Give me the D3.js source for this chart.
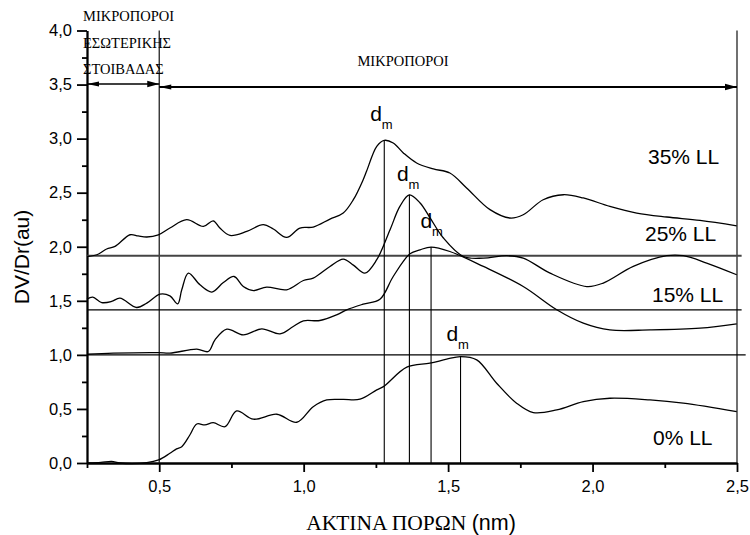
<!DOCTYPE html>
<html>
<head>
<meta charset="utf-8">
<script src="https://cdn.jsdelivr.net/npm/d3@7"></script>
<style>
  body { margin: 0; background: #fff; }
  svg { display: block; }
  .axis path, .axis line { stroke: #000; stroke-width: 1.8; }
  .axis text { font-family: "Liberation Sans", Arial, sans-serif; font-size: 16.5px; fill: #000; }
  .greek { font-family: "Liberation Serif", "Times New Roman", serif; }
  .sans { font-family: "Liberation Sans", Arial, sans-serif; }
</style>
</head>
<body>
<script>
// values: [radius nm, DV/Dr]
const ll35 = [[0.25,1.91],[0.284,1.926],[0.318,1.979],[0.347,2.003],[0.399,2.111],[0.427,2.10],[0.457,2.09],[0.497,2.11],
  [0.537,2.173],[0.595,2.25],[0.653,2.188],[0.687,2.24],[0.710,2.173],[0.745,2.105],[0.803,2.142],[0.860,2.204],[0.895,2.164],
  [0.941,2.086],[0.987,2.173],[1.033,2.182],[1.091,2.256],[1.137,2.312],[1.172,2.435],[1.206,2.62],[1.218,2.70],[1.253,2.929],
  [1.279,2.984],[1.310,2.96],[1.345,2.868],[1.391,2.775],[1.449,2.72],[1.506,2.682],[1.564,2.544],[1.645,2.343],[1.714,2.266],
  [1.760,2.296],[1.829,2.435],[1.899,2.481],[1.968,2.451],[2.060,2.373],[2.153,2.312],[2.257,2.275],[2.372,2.244],[2.499,2.194]];

const ll25 = [[0.25,1.516],[0.270,1.534],[0.301,1.484],[0.335,1.494],[0.364,1.525],[0.422,1.438],[0.457,1.479],[0.503,1.562],
  [0.537,1.546],[0.564,1.472],[0.578,1.602],[0.601,1.756],[0.641,1.648],[0.682,1.581],[0.722,1.669],[0.759,1.725],[0.791,1.632],
  [0.826,1.595],[0.872,1.627],[0.941,1.602],[0.999,1.688],[1.033,1.71],[1.091,1.818],[1.137,1.886],[1.172,1.83],[1.212,1.756],
  [1.253,1.88],[1.299,2.157],[1.333,2.373],[1.366,2.48],[1.403,2.405],[1.437,2.27],[1.483,2.083],[1.553,1.91],[1.622,1.895],
  [1.703,1.917],[1.760,1.895],[1.853,1.756],[1.980,1.632],[2.037,1.664],[2.141,1.818],[2.257,1.917],[2.314,1.917],
  [2.395,1.849],[2.499,1.741]];

const ll15 = [[0.25,1.006],[0.341,1.016],[0.497,1.021],[0.537,1.016],[0.630,1.053],[0.670,1.031],[0.693,1.139],[0.734,1.238],
  [0.791,1.185],[0.855,1.241],[0.918,1.194],[0.964,1.262],[0.999,1.315],[1.056,1.318],[1.114,1.37],[1.149,1.417],[1.206,1.469],
  [1.264,1.514],[1.310,1.725],[1.368,1.935],[1.403,1.972],[1.441,1.997],[1.506,1.956],[1.622,1.818],[1.760,1.632],
  [1.876,1.417],[1.968,1.293],[2.060,1.231],[2.199,1.231],[2.372,1.247],[2.499,1.287]];

const ll0 = [[0.254,0.0],[0.298,0.005],[0.335,0.015],[0.364,0.0],[0.457,0.003],[0.498,0.028],[0.537,0.09],[0.560,0.13],
  [0.578,0.151],[0.606,0.259],[0.630,0.361],[0.658,0.352],[0.687,0.373],[0.728,0.336],[0.768,0.481],[0.826,0.405],
  [0.907,0.451],[0.976,0.377],[1.033,0.521],[1.080,0.583],[1.136,0.588],[1.195,0.59],[1.253,0.676],[1.276,0.706],
  [1.357,0.886],[1.437,0.923],[1.495,0.96],[1.543,0.984],[1.599,0.954],[1.668,0.738],[1.737,0.553],[1.795,0.466],
  [1.876,0.491],[1.968,0.568],[2.060,0.599],[2.199,0.583],[2.314,0.553],[2.499,0.475]];

const seriesNames = ["35% LL", "25% LL", "15% LL", "0% LL"];
const baseLevels = [1.917, 1.417, 1.0];
const zoneBounds = [0.25, 0.5, 2.5];
const zoneNames = ["ΜΙΚΡΟΠΟΡΟΙ", "ΕΣΩΤΕΡΙΚΗΣ", "ΣΤΟΙΒΑΔΑΣ"];
const xTicks = [0.5, 1.0, 1.5, 2.0, 2.5];
const xMinor = [0.25, 0.75, 1.25, 1.75, 2.25];
const yTicks = [0, 0.5, 1.0, 1.5, 2.0, 2.5, 3.0, 3.5, 4.0];
const yMinor = [0.25, 0.75, 1.25, 1.75, 2.25, 2.75, 3.25, 3.75];

const width = 750;
const height = 535;
const allSeries = [ll35, ll25, ll15, ll0];

const svg = d3.select("body").append("svg")
    .attr("width", width)
    .attr("height", height);

const x = d3.scaleLinear().domain([0.25, 2.5]).range([87, 737]);
const y = d3.scaleLinear().domain([0, 4]).range([463, 30.5]);
const fmt = d => d3.format(".1f")(d).replace(".", ",");

// axes
svg.append("g").attr("class", "axis")
    .attr("transform", "translate(0,463)")
    .call(d3.axisBottom(x).tickValues(xMinor).tickSize(5).tickFormat("").tickSizeOuter(0));
svg.append("g").attr("class", "axis")
    .attr("transform", "translate(0,463)")
    .call(d3.axisBottom(x).tickValues(xTicks).tickSize(9).tickPadding(8).tickFormat(fmt).tickSizeOuter(0));
svg.append("g").attr("class", "axis")
    .attr("transform", "translate(87,0)")
    .call(d3.axisLeft(y).tickValues(yMinor).tickSize(5).tickFormat("").tickSizeOuter(0));
svg.append("g").attr("class", "axis")
    .attr("transform", "translate(87,0)")
    .call(d3.axisLeft(y).tickValues(yTicks).tickSize(10).tickPadding(5).tickFormat(fmt).tickSizeOuter(0));

// zone boundaries
svg.selectAll(".zone").data(zoneBounds.slice(1)).enter().append("line")
    .attr("x1", d => x(d)).attr("x2", d => x(d))
    .attr("y1", y(4)).attr("y2", y(0))
    .attr("stroke", "#111").attr("stroke-width", 1.2);

// base lines of the shifted curves
svg.selectAll(".base").data(baseLevels).enter().append("line")
    .attr("x1", x(0.25)).attr("x2", (d, i) => x(i == 2 ? 2.53 : 2.516))
    .attr("y1", d => y(d)).attr("y2", d => y(d))
    .attr("stroke", (d, i) => i == 0 ? "#444" : "#000")
    .attr("stroke-width", (d, i) => i == 0 ? 2 : 1.2);

// arrows
const defs = svg.append("defs");
defs.append("marker").attr("id", "headR")
    .attr("markerUnits", "userSpaceOnUse").attr("markerWidth", 14).attr("markerHeight", 8)
    .attr("refX", 12).attr("refY", 4).attr("orient", "auto")
    .append("path").attr("d", "M0,0.8L12,4L0,7.2Z").attr("fill", "#000");
defs.append("marker").attr("id", "headL")
    .attr("markerUnits", "userSpaceOnUse").attr("markerWidth", 14).attr("markerHeight", 8)
    .attr("refX", 0).attr("refY", 4).attr("orient", "auto")
    .append("path").attr("d", "M12,1.5L0,4L12,6.5Z").attr("fill", "#000");

svg.append("line")
    .attr("x1", x(zoneBounds[0])).attr("x2", x(zoneBounds[1]))
    .attr("y1", y(3.505)).attr("y2", y(3.505))
    .attr("stroke", "#000").attr("stroke-width", 1.4)
    .attr("marker-start", "url(#headL)").attr("marker-end", "url(#headR)");
svg.append("line")
    .attr("x1", x(zoneBounds[1])).attr("x2", x(zoneBounds[2]))
    .attr("y1", y(3.478)).attr("y2", y(3.478))
    .attr("stroke", "#000").attr("stroke-width", 2)
    .attr("marker-start", "url(#headL)").attr("marker-end", "url(#headR)");

// zone texts
svg.selectAll(".zoneText").data(zoneNames).enter().append("text")
    .attr("class", "greek")
    .attr("x", 83).attr("y", (d, i) => 21 + i * 26.6)
    .attr("font-size", 14.5)
    .text(d => d);
svg.append("text").attr("class", "greek")
    .attr("x", 403).attr("y", 66)
    .attr("text-anchor", "middle").attr("font-size", 14.5)
    .text(zoneNames[0]);

// curves
const line = d3.line()
    .x(d => x(d[0])).y(d => y(d[1]))
    .curve(d3.curveCatmullRom.alpha(0.5));

svg.selectAll(".curve").data(allSeries).enter().append("path")
    .attr("d", line)
    .attr("fill", "none").attr("stroke", "#000").attr("stroke-width", 1.3);

// d_m at the maximum of every curve
const peaks = allSeries.map(s => s[d3.maxIndex(s, d => d[1])]);
const dmShift = [[-14, -19], [-12.5, -13.5], [-10.5, -19.5], [-14, -16]];

svg.selectAll(".dmLine").data(peaks).enter().append("line")
    .attr("x1", d => x(d[0])).attr("x2", d => x(d[0]))
    .attr("y1", d => y(d[1])).attr("y2", y(0))
    .attr("stroke", "#000").attr("stroke-width", 1.1);

peaks.forEach(function(p, i) {
    const px = x(p[0]) + dmShift[i][0];
    const py = y(p[1]) + dmShift[i][1];
    svg.append("text").attr("class", "sans")
        .attr("x", px).attr("y", py).attr("font-size", 21).text("d");
    svg.append("text").attr("class", "sans")
        .attr("x", px + 11.5).attr("y", py + 8).attr("font-size", 13).text("m");
});

// series names
const namePos = [[648, 164], [645, 241], [652, 302], [653, 445]];
svg.selectAll(".name").data(seriesNames).enter().append("text")
    .attr("class", "sans")
    .attr("x", (d, i) => namePos[i][0]).attr("y", (d, i) => namePos[i][1])
    .attr("font-size", 21)
    .text(d => d);

// axis titles
svg.append("text").attr("class", "sans")
    .attr("transform", "translate(29,257) rotate(-90)")
    .attr("text-anchor", "middle").attr("font-size", 21)
    .text("DV/Dr(au)");

const xt = svg.append("text")
    .attr("x", 411).attr("y", 530)
    .attr("text-anchor", "middle").attr("font-size", 21.5);
xt.append("tspan").attr("class", "greek").text("ΑΚΤΙΝΑ ΠΟΡΩΝ ");
xt.append("tspan").attr("class", "sans").text("(nm)");
</script>
</body>
</html>
